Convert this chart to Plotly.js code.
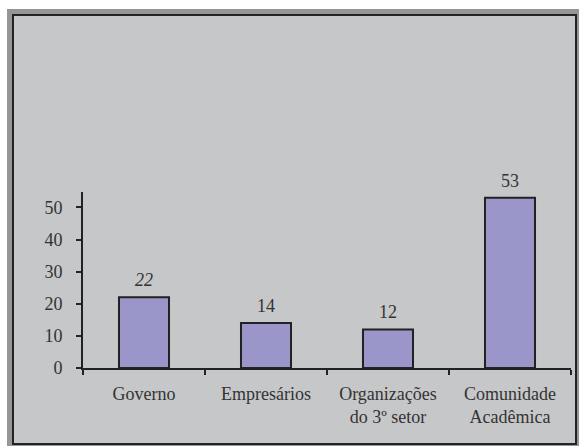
<!DOCTYPE html>
<html>
<head>
<meta charset="utf-8">
<script src="https://cdn.plot.ly/plotly-3.0.1.min.js"></script>
<style>
  html, body { margin: 0; padding: 0; background: #ffffff; width: 579px; height: 446px; overflow: hidden; }
  #outer { position: absolute; left: 7px; top: 9px; width: 572px; height: 437px; background: #969696; }
  #frame { position: absolute; left: 12px; top: 14px; width: 561px; height: 427px; border: 2px solid #232323; background: #c6c7c9; }
  #chart { position: absolute; left: 0; top: 0; width: 561px; height: 427px; }
</style>
</head>
<body>
<div id="outer"></div>
<div id="frame"><div id="chart"></div></div>
<script>
const categories = ["Governo", "Empresários", "Organizações<br>do 3º setor", "Comunidade<br>Acadêmica"];
const values = [22, 14, 12, 53];
const valueLabels = ["<i>22</i>", "14", "12", "53"];
const yTickValues = [0, 10, 20, 30, 40, 50];

const fontFamily = "Liberation Serif, Times New Roman, serif";
const textColor = "#333333";

const trace = {
  type: "bar",
  x: categories,
  y: values,
  width: 0.41,
  marker: { color: "#9b96c9", line: { color: "#222222", width: 2 } },
  hoverinfo: "none"
};

const annotations = categories.map((c, i) => ({
  x: c, y: values[i], xref: "x", yref: "y",
  text: valueLabels[i], showarrow: false,
  yanchor: "bottom", yshift: 5,
  font: { family: fontFamily, size: 18, color: textColor }
}));

const layout = {
  width: 561, height: 427,
  margin: { l: 69, r: 4, t: 176, b: 75, pad: 0 },
  paper_bgcolor: "#c6c7c9",
  plot_bgcolor: "#c6c7c9",
  showlegend: false,
  font: { family: fontFamily, size: 18, color: textColor },
  xaxis: {
    type: "category",
    showgrid: false, zeroline: false,
    showline: true, linecolor: "#222222", linewidth: 2,
    ticks: "outside", tickson: "boundaries", ticklen: 5, tickwidth: 2, tickcolor: "#222222",
    ticklabelstandoff: 8,
    tickfont: { family: fontFamily, size: 18, color: textColor },
    fixedrange: true
  },
  yaxis: {
    range: [0, 54.8],
    tickvals: yTickValues,
    showgrid: false, zeroline: false,
    showline: true, linecolor: "#222222", linewidth: 2,
    ticks: "outside", ticklen: 5, tickwidth: 2, tickcolor: "#222222",
    ticklabelstandoff: 10,
    tickfont: { family: fontFamily, size: 18, color: textColor },
    fixedrange: true
  },
  annotations: annotations
};

Plotly.newPlot("chart", [trace], layout, { displayModeBar: false, staticPlot: true });
</script>
</body>
</html>
